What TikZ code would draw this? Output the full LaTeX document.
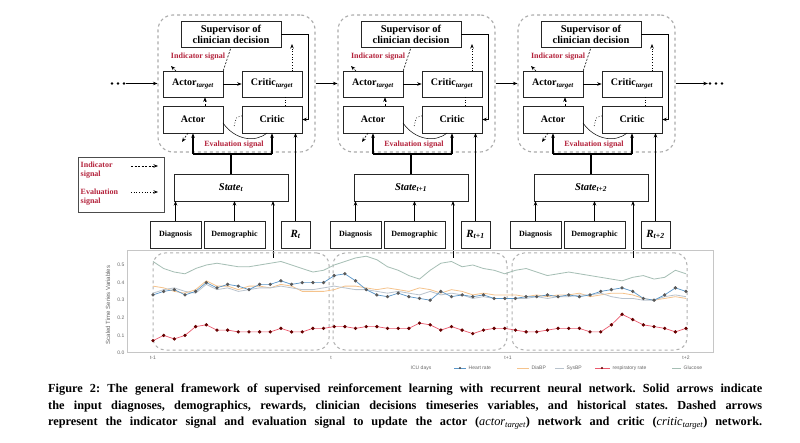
\documentclass[tikz,border=0pt]{standalone}
\usepackage{fontspec}
\setmainfont{Liberation Serif}
\setsansfont{Liberation Sans}
\usetikzlibrary{arrows.meta}
\definecolor{sigred}{RGB}{180,35,60}
\definecolor{hrcol}{RGB}{90,150,200}
\definecolor{diacol}{RGB}{245,195,140}
\definecolor{syscol}{RGB}{185,195,205}
\definecolor{glucol}{RGB}{165,190,180}
\definecolor{rescol}{RGB}{235,90,110}
\tikzset{
  box/.style={draw=black!85, line width=0.6pt, fill=white, inner sep=1pt,
    font=\bfseries\fontsize{10}{11}\selectfont},
  smallbox/.style={box, font=\bfseries\fontsize{8}{9}\selectfont},
  cont/.style={draw=gray!65, dashed, line width=1.1pt, rounded corners=15pt},
  sig/.style={font=\bfseries\fontsize{8}{9}\selectfont, text=sigred, inner sep=0.5pt},
  arr/.style={-{Stealth[length=4.5pt,width=3.5pt]}, line width=0.7pt},
  thk/.style={line width=1.4pt},
  thkarr/.style={line width=1.4pt, -{Stealth[length=4.5pt,width=3.5pt]}},
  dsh/.style={line width=0.6pt, dash pattern=on 2pt off 1.5pt},
  dsharr/.style={arr, line width=0.6pt, dash pattern=on 2pt off 1.5pt},
  dotarr/.style={arr, dotted, line width=0.7pt},
  ticklab/.style={font=\sffamily\fontsize{5}{6}\selectfont, text=black!60, inner sep=0.5pt},
  chbox/.style={draw=gray!60, dashed, line width=1pt, rounded corners=12pt},
  capline/.style={anchor=west, inner sep=0pt, font=\bfseries\fontsize{12.3}{14}\selectfont\frenchspacing},
  dotsnode/.style={inner sep=0pt, minimum width=16pt, minimum height=6pt},
}
\newcommand\blk[3]{%
\begin{scope}[xshift=#2pt]
  \node[cont, minimum width=157pt, minimum height=137pt] (cont#1) at (236.5,83.5) {};
  \node[box, minimum width=100pt, minimum height=26pt, align=center, font=\bfseries\fontsize{10.5}{11}\selectfont] (sup#1) at (231,34) {Supervisor of\\clinician decision};
  \node[box, minimum width=60pt, minimum height=26pt] (atg#1) at (193,84) {Actor\textsubscript{\itshape target}};
  \node[box, minimum width=60pt, minimum height=26pt] (ctg#1) at (272,84) {Critic\textsubscript{\itshape target}};
  \node[box, minimum width=60pt, minimum height=27pt] (act#1) at (193,119.5) {Actor};
  \node[box, minimum width=60pt, minimum height=27pt] (cri#1) at (272,119.5) {Critic};
  \node[box, minimum width=114pt, minimum height=27pt, font=\bfseries\itshape\fontsize{10.5}{11}\selectfont] (st#1) at (231,187.5) {State\textsubscript{#3}};
  \node[smallbox, minimum width=51pt, minimum height=27pt] (dg#1) at (175.5,234.5) {Diagnosis};
  \node[smallbox, minimum width=61pt, minimum height=27pt] (dm#1) at (234.5,234.5) {Demographic};
  \node[box, minimum width=29pt, minimum height=27pt, font=\bfseries\itshape\fontsize{11}{12}\selectfont] (rw#1) at (295.5,234.5) {R\textsubscript{#3}};
  \node[sig] (is#1) at (198,57) {Indicator signal};
  \node[sig] (es#1) at (234,145) {Evaluation signal};
  \coordinate (kn#1) at (308,34);
  \coordinate (dta#1) at (292,71);
  \coordinate (dtb#1) at (292,44);
  \coordinate (ev#1) at (231,154);
  \coordinate (eva#1) at (193,154);
  \coordinate (evc#1) at (272,154);
  \coordinate (chin#1) at (273,258);
  \coordinate (chst#1) at (273,201);
  \coordinate (rc#1) at (295.5,133);
  \coordinate (dgs#1) at (175.5,201);
  \coordinate (dms#1) at (234.5,201);
  \coordinate (kc#1) at (308,119.5);
  \coordinate (ia#1) at (176,71);
  \coordinate (ib#1) at (171,66);
  \coordinate (ea#1) at (188,133);
  \coordinate (eb#1) at (182,142);
  \coordinate (cu#1) at (223,123);
  \coordinate (cv#1) at (267,133);
  \coordinate (da#1) at (242,116);
  \coordinate (db#1) at (234,127);
  \draw[arr] (atg#1.east) -- (ctg#1.west);
  \draw[arr] (sup#1.east) -- (kn#1) -- (kc#1) -- (cri#1.east);
  \draw[dotarr] (dta#1) -- (dtb#1);
  \draw[dsh] (atg#1.north east) -- (sup#1.south);
  \draw[dsharr] (ia#1) -- (ib#1);
  \draw[dsharr] ([xshift=12pt]act#1.north) -- ([xshift=12pt]atg#1.south);
  \draw[dotted, line width=0.7pt] ([xshift=13pt]cri#1.north) -- ([xshift=13pt]ctg#1.south);
  \draw[line width=0.5pt] (cu#1) .. controls (235,140) and (255,143) .. (cv#1);
  \draw[dotted, line width=0.7pt] (da#1) .. controls (236,117) .. (db#1);
  \draw[dsharr] (ea#1) -- (eb#1);
  \draw[thk] (eva#1) -- (evc#1);
  \draw[thkarr] (eva#1) -- (act#1.south);
  \draw[thkarr] (evc#1) -- (cri#1.south);
  \draw[thk] (st#1.north) -- (ev#1);
  \draw[arr] (rw#1.north) -- (rc#1);
  \draw[arr] (dg#1.north) -- (dgs#1);
  \draw[arr] (dm#1.north) -- (dms#1);
  \draw[arr] (chin#1) -- (chst#1);
\end{scope}}
\begin{document}
\begin{tikzpicture}[x=1pt,y=-1pt]
\fill[white] (0,0) rectangle (800,443);
\useasboundingbox (0,0) rectangle (800,443);

\blk{1}{0}{t}
\blk{2}{180}{t+1}
\blk{3}{360}{t+2}

\node[dotsnode] (dl) at (118,83.5) {};
\node[dotsnode] (dr) at (716,83.5) {};
\foreach \dx in {-6,0,6}{
  \fill ([xshift=\dx pt]dl.center) circle[radius=1.3pt];
  \fill ([xshift=\dx pt]dr.center) circle[radius=1.3pt];
}
\draw[arr] (dl.east) -- (cont1.west);
\draw[arr] (cont1.east) -- (cont2.west);
\draw[arr] (cont2.east) -- (cont3.west);
\draw[arr] (cont3.east) -- (dr.west);

\node[draw=black!70, line width=0.6pt, minimum width=86pt, minimum height=55pt] (leg) at (121,184.5) {};
\node[sig, anchor=west, align=left] (li) at (80,170) {Indicator\\signal};
\node[sig, anchor=west, align=left] (le) at (80,197) {Evaluation\\signal};
\coordinate (li1) at (131,166); \coordinate (li2) at (158,166);
\coordinate (le1) at (131,192); \coordinate (le2) at (158,192);
\draw[dsharr] (li1) -- (li2);
\draw[dotarr] (le1) -- (le2);

\draw[gray!45, line width=0.5pt] (127,250) rectangle (713,352);
\node[ticklab, anchor=east] at (125,353) {0.0};
\node[ticklab, anchor=east] at (125,335.4) {0.1};
\node[ticklab, anchor=east] at (125,317.8) {0.2};
\node[ticklab, anchor=east] at (125,300.2) {0.3};
\node[ticklab, anchor=east] at (125,282.6) {0.4};
\node[ticklab, anchor=east] at (125,265) {0.5};
\node[ticklab, rotate=90, font=\sffamily\fontsize{6}{7}\selectfont] at (108,305) {Scaled Time Series Variables};
\node[ticklab] at (153,358) {t-1};
\node[ticklab] at (331,358) {t};
\node[ticklab] at (508,358) {t+1};
\node[ticklab] at (686,358) {t+2};
\node[ticklab] at (421,368) {ICU days};
\draw[hrcol, line width=0.6pt] (454,368) -- (466,368);
\fill[black!70] (460,368) circle[radius=1.2pt];
\node[ticklab, anchor=west] at (468,368) {Heart rate};
\draw[diacol, line width=0.8pt] (517,368) -- (529,368);
\node[ticklab, anchor=west] at (531,368) {DiaBP};
\draw[syscol, line width=0.8pt] (555,368) -- (564,368);
\node[ticklab, anchor=west] at (566,368) {SysBP};
\draw[rescol, line width=0.6pt] (595,368) -- (610,368);
\fill[black!60!red] (602,368) circle[radius=1.2pt];
\node[ticklab, anchor=west] at (612,368) {respiratory rate};
\draw[glucol, line width=0.8pt] (672,368) -- (681,368);
\node[ticklab, anchor=west] at (683,368) {Glucose};

\node[chbox, minimum width=176pt, minimum height=97pt] (w1) at (241,301.5) {};
\node[chbox, minimum width=174pt, minimum height=97pt] (w2) at (420,301.5) {};
\node[chbox, minimum width=175pt, minimum height=97pt] (w3) at (599.5,301.5) {};

\begin{scope}[shift={(153,353)}, x=10.66pt, y=176pt]
\draw[glucol, line width=0.8pt] plot coordinates {(0,0.52) (1,0.48) (2,0.46) (3,0.45) (4,0.48) (5,0.50) (6,0.51) (7,0.50) (8,0.49) (9,0.49) (10,0.50) (11,0.51) (12,0.52) (13,0.50) (14,0.48) (15,0.46) (16,0.47) (17,0.50) (18,0.52) (19,0.54) (20,0.55) (21,0.53) (22,0.49) (23,0.47) (24,0.44) (25,0.42) (26,0.47) (27,0.51) (28,0.52) (29,0.49) (30,0.50) (31,0.48) (32,0.47) (33,0.45) (34,0.47) (35,0.48) (36,0.46) (37,0.44) (38,0.45) (39,0.46) (40,0.45) (41,0.44) (42,0.43) (43,0.42) (44,0.41) (45,0.43) (46,0.44) (47,0.42) (48,0.43) (49,0.47) (50,0.45)};
\draw[diacol, line width=0.8pt] plot coordinates {(0,0.38) (1,0.37) (2,0.35) (3,0.34) (4,0.36) (5,0.41) (6,0.38) (7,0.38) (8,0.36) (9,0.38) (10,0.38) (11,0.37) (12,0.39) (13,0.38) (14,0.35) (15,0.35) (16,0.35) (17,0.36) (18,0.38) (19,0.38) (20,0.37) (21,0.36) (22,0.37) (23,0.36) (24,0.35) (25,0.37) (26,0.36) (27,0.34) (28,0.36) (29,0.35) (30,0.33) (31,0.34) (32,0.33) (33,0.33) (34,0.33) (35,0.32) (36,0.33) (37,0.32) (38,0.33) (39,0.33) (40,0.34) (41,0.32) (42,0.33) (43,0.34) (44,0.34) (45,0.33) (46,0.31) (47,0.30) (48,0.31) (49,0.32) (50,0.31)};
\draw[syscol, line width=0.8pt] plot coordinates {(0,0.34) (1,0.36) (2,0.37) (3,0.35) (4,0.34) (5,0.39) (6,0.36) (7,0.37) (8,0.35) (9,0.36) (10,0.37) (11,0.37) (12,0.38) (13,0.37) (14,0.36) (15,0.36) (16,0.37) (17,0.38) (18,0.37) (19,0.36) (20,0.36) (21,0.35) (22,0.34) (23,0.35) (24,0.34) (25,0.33) (26,0.35) (27,0.33) (28,0.34) (29,0.33) (30,0.31) (31,0.32) (32,0.31) (33,0.31) (34,0.31) (35,0.31) (36,0.32) (37,0.31) (38,0.32) (39,0.32) (40,0.33) (41,0.33) (42,0.34) (43,0.32) (44,0.31) (45,0.31) (46,0.30) (47,0.30) (48,0.32) (49,0.33) (50,0.32)};
\draw[hrcol, line width=0.7pt] plot[mark=*, mark size=1.3pt, mark options={fill=black!65, draw=black!65}] coordinates {(0,0.33) (1,0.35) (2,0.36) (3,0.33) (4,0.35) (5,0.40) (6,0.37) (7,0.39) (8,0.38) (9,0.36) (10,0.39) (11,0.39) (12,0.41) (13,0.39) (14,0.40) (15,0.40) (16,0.40) (17,0.44) (18,0.45) (19,0.41) (20,0.36) (21,0.33) (22,0.32) (23,0.34) (24,0.32) (25,0.31) (26,0.30) (27,0.35) (28,0.32) (29,0.33) (30,0.32) (31,0.33) (32,0.31) (33,0.31) (34,0.31) (35,0.32) (36,0.32) (37,0.33) (38,0.32) (39,0.33) (40,0.32) (41,0.33) (42,0.35) (43,0.36) (44,0.37) (45,0.35) (46,0.31) (47,0.30) (48,0.33) (49,0.37) (50,0.35)};
\draw[rescol, line width=0.7pt] plot[mark=*, mark size=1.3pt, mark options={fill=black!60!red, draw=black!60!red}] coordinates {(0,0.07) (1,0.10) (2,0.08) (3,0.10) (4,0.15) (5,0.16) (6,0.13) (7,0.13) (8,0.12) (9,0.12) (10,0.12) (11,0.12) (12,0.14) (13,0.12) (14,0.12) (15,0.14) (16,0.14) (17,0.15) (18,0.15) (19,0.14) (20,0.15) (21,0.15) (22,0.14) (23,0.14) (24,0.14) (25,0.17) (26,0.16) (27,0.13) (28,0.15) (29,0.13) (30,0.11) (31,0.13) (32,0.14) (33,0.14) (34,0.13) (35,0.12) (36,0.12) (37,0.13) (38,0.14) (39,0.14) (40,0.14) (41,0.12) (42,0.12) (43,0.16) (44,0.22) (45,0.19) (46,0.16) (47,0.15) (48,0.14) (49,0.12) (50,0.14)};
\end{scope}

\node[capline] (cap1) at (48,390)
  {\makebox[714pt][s]{Figure 2: The general framework of supervised reinforcement learning with recurrent neural network. Solid arrows indicate}};
\node[capline] (cap2) at (48,407)
  {\makebox[714pt][s]{the input diagnoses, demographics, rewards, clinician decisions timeseries variables, and historical states. Dashed arrows}};
\node[capline] (cap3) at (48,423)
  {\makebox[714pt][s]{represent the indicator signal and evaluation signal to update the actor ({\mdseries\itshape actor\textsubscript{target}}) network and critic ({\mdseries\itshape critic\textsubscript{target}}) network.}};
\end{tikzpicture}
\end{document}
